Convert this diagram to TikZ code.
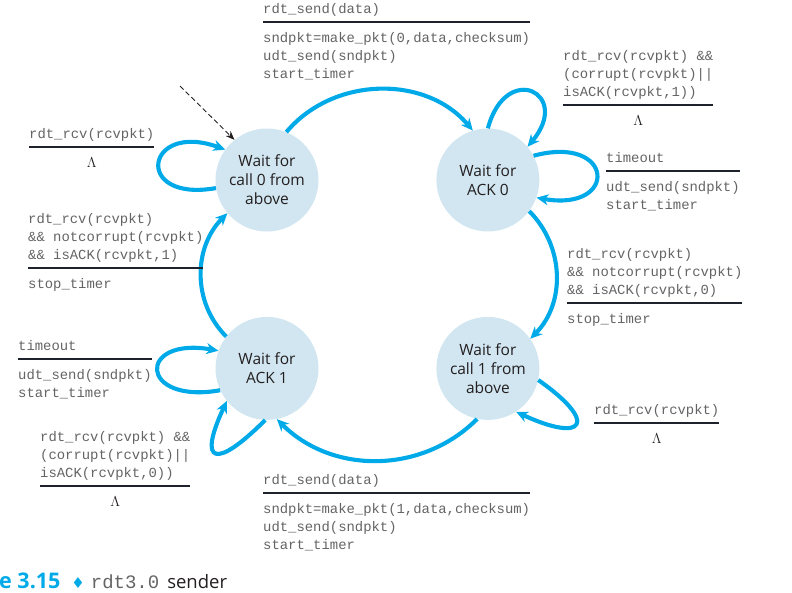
\documentclass[tikz,border=0pt]{standalone}
\usepackage{fontspec}
\setmonofont{Liberation Mono}
\newfontfamily\statefont{Open Sans}
\newfontfamily\symfont{DejaVu Sans}
\usepackage{colortbl}
\usetikzlibrary{arrows.meta, positioning}

\definecolor{rdtblue}{RGB}{0,170,232}
\definecolor{rdtfill}{RGB}{209,230,241}
\definecolor{rdttext}{RGB}{100,100,100}
\definecolor{rdtdark}{RGB}{35,31,32}
\definecolor{rdtrule}{RGB}{30,34,45}

\setlength{\arrayrulewidth}{1.2pt}
\arrayrulecolor{rdtrule}

% evento / acao separados por uma linha
\newcommand{\guardlbl}[2]{%
  \begin{tabular}[t]{@{}l@{}}#1\\[3pt]\hline\noalign{\vskip 7pt}#2\end{tabular}}
\newcommand{\nullact}{\multicolumn{1}{c}{\color{rdtdark}$\Lambda$}}

\begin{document}
\begin{tikzpicture}[
            x=1pt, y=1pt,
            node distance=85pt and 117.5pt,
            >={Stealth[length=12pt,width=11pt]},
            state/.style={
                circle,
                fill=rdtfill,
                minimum size=103pt,
                inner sep=0pt,
                align=center,
                text=rdtdark,
                font=\statefont\fontsize{15.5}{19}\selectfont
            },
            tr/.style={->, draw=rdtblue, line width=4.1pt},
            guard/.style={
                anchor=base west,
                inner sep=0pt,
                text=rdttext,
                font=\ttfamily\fontsize{13.9}{18}\selectfont
            }
        ]
            \useasboundingbox (0,0) rectangle (792,-592);

            % Estados
            \node [state] (call0) at (267,-180) {Wait for\\call 0 from\\above};
            \node [state, right=of call0] (ack0) {Wait for\\ACK 0};
            \node [state, below=of ack0] (call1) {Wait for\\call 1 from\\above};
            \node [state, below=of call0] (ack1) {Wait for\\ACK 1};

            % Estado inicial (seta tracejada)
            \coordinate (init) at (180,-86);
            \draw [->, >={Stealth[length=9pt,width=7pt]}, dash pattern=on 5pt off 3pt,
                line width=0.9pt, draw=rdtdark] (init) -- (call0.129);

            % Transicoes entre estados
            \draw [tr] (call0.68) to[out=50, in=130] (ack0.107);
            \draw [tr] (ack0.-37) to[out=-45, in=45] (call1.35);
            \draw [tr] (call1.-102) to[out=-135, in=-45] (ack1.-79);
            \draw [tr] (ack1.142) to[out=135, in=-135] (call0.-140);

            % Lacos
            \draw [tr] (call0.189) .. controls +(190:85) and +(160:85) .. (call0.144);
            \draw [tr] (ack0.90) .. controls +(75:70) and +(50:70) .. (ack0.40);
            \draw [tr] (ack0.28) .. controls +(15:84) and +(-10:84) .. (ack0.-20);
            \draw [tr] (call1.-13) .. controls +(-35:75) and +(-25:75) .. (call1.-57);
            \draw [tr] (ack1.205) .. controls +(190:83) and +(170:83) .. (ack1.160);
            \draw [tr] (ack1.-92) .. controls +(-135:70) and +(-115:70) .. (ack1.-141);

            % Rotulos
            \node [guard] (send0) at (263,-13)
                {\guardlbl{rdt\_send(data)}{sndpkt=make\_pkt(0,data,checksum)\\udt\_send(sndpkt)\\start\_timer}};
            \node [guard] (rcv0) at (29,-138)
                {\guardlbl{rdt\_rcv(rcvpkt)}{\nullact}};
            \node [guard] (ok1) at (28,-223)
                {\guardlbl{rdt\_rcv(rcvpkt)\\\&\& notcorrupt(rcvpkt)\\\&\& isACK(rcvpkt,1)}{stop\_timer}};
            \node [guard] (bad0) at (563,-60)
                {\guardlbl{rdt\_rcv(rcvpkt) \&\&\\(corrupt(rcvpkt)||\\isACK(rcvpkt,1))}{\nullact}};
            \node [guard] (tout0) at (606,-162)
                {\guardlbl{timeout}{udt\_send(sndpkt)\\start\_timer}};
            \node [guard] (ok0) at (567,-258)
                {\guardlbl{rdt\_rcv(rcvpkt)\\\&\& notcorrupt(rcvpkt)\\\&\& isACK(rcvpkt,0)}{stop\_timer}};
            \node [guard] (rcv1) at (594,-414)
                {\guardlbl{rdt\_rcv(rcvpkt)}{\nullact}};
            \node [guard] (tout1) at (18,-350)
                {\guardlbl{timeout}{udt\_send(sndpkt)\\start\_timer}};
            \node [guard] (bad1) at (40,-441)
                {\guardlbl{rdt\_rcv(rcvpkt) \&\&\\(corrupt(rcvpkt)||\\isACK(rcvpkt,0))}{\nullact}};
            \node [guard] (send1) at (263,-484)
                {\guardlbl{rdt\_send(data)}{sndpkt=make\_pkt(1,data,checksum)\\udt\_send(sndpkt)\\start\_timer}};

            % Legenda
            \node [anchor=base west, inner sep=0pt] (caption) at (-1,-588)
                {{\statefont\bfseries\fontsize{21.5}{24}\selectfont\color{rdtblue}e 3.15}\hspace{11pt}%
                {\symfont\fontsize{15}{16}\selectfont\color{rdtblue}♦}\hspace{6pt}%
                {\ttfamily\fontsize{19}{22}\selectfont\color{rdttext}rdt3.0}\hspace{8pt}%
                {\statefont\fontsize{18.5}{22}\selectfont\color{rdtdark}sender}};
        \end{tikzpicture}
\end{document}
